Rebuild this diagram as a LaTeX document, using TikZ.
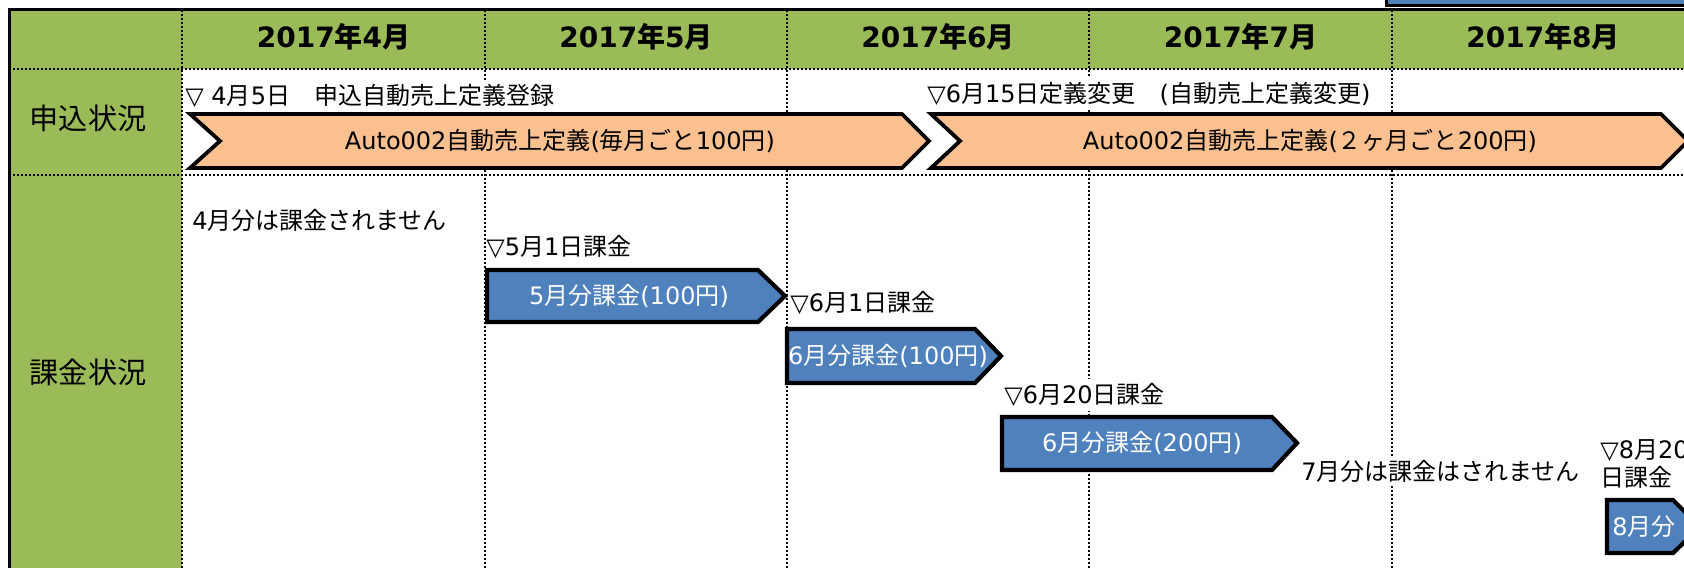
\documentclass[tikz,border=0pt]{standalone}
\usepackage{fontspec}
\setmainfont{DejaVu Sans}
\newfontfamily\jf{Noto Sans CJK JP}
\newcommand\J[1]{{\jf #1}}
\definecolor{hdrgreen}{RGB}{155,187,89}
\definecolor{barorange}{RGB}{250,192,144}
\definecolor{boxblue}{RGB}{79,129,189}
\begin{document}
\begin{tikzpicture}[x=0.5pt,y=-0.5pt,
 dotln/.style={line width=1pt, dash pattern=on 1pt off 1pt},
 framel/.style={line width=1.5pt},
 chev/.style={draw=black, line width=1.9pt, fill=barorange, line join=miter},
 bluebox/.style={draw=black, line width=2.1pt, fill=boxblue, line join=miter},
 note/.style={fill=white, inner xsep=0pt, inner ysep=2pt, anchor=west, font=\fontsize{12}{14}\selectfont},
 bartext/.style={inner sep=0pt, font=\fontsize{12}{14}\selectfont},
 boxtext/.style={inner sep=0pt, text=white, font=\fontsize{12}{14}\selectfont},
 hdr/.style={inner sep=0pt, font=\fontsize{14}{16}\selectfont\bfseries},
 rowlbl/.style={inner sep=0pt, font=\fontsize{14.6}{16}\selectfont}]
\useasboundingbox (0,0) rectangle (1684,567);
\clip (0,0) rectangle (1684,567);
% backgrounds
\fill[hdrgreen] (9,10) rectangle (1700,69);
\fill[hdrgreen] (9,69) rectangle (182,580);
% top-right blue box
\draw[bluebox, line width=1.5pt] (1386,-10) rectangle (1700,6);
% dotted grid
\foreach \x in {182,485,787,1089,1392} \draw[dotln] (\x,10) -- (\x,580);
\draw[dotln] (9,69) -- (1700,69);
\draw[dotln] (9,175) -- (1700,175);
% frame
\draw[framel] (9,580) -- (9,10) -- (1700,10);
% headers
\node[hdr] (m4) at (333.5,37) {2017\J{年}4\J{月}};
\node[hdr] (m5) at (636,37) {2017\J{年}5\J{月}};
\node[hdr] (m6) at (938,37) {2017\J{年}6\J{月}};
\node[hdr] (m7) at (1240.5,37) {2017\J{年}7\J{月}};
\node[hdr] (m8) at (1543,37) {2017\J{年}8\J{月}};
\node[rowlbl] (r1) at (88,118) {\J{申込状況}};
\node[rowlbl] (r2) at (88,372) {\J{課金状況}};
% notes
\node[note] (n1) at (185,96) {▽ 4\J{月}5\J{日　申込自動売上定義登録}};
\node[note] (n2) at (927,94) {▽6\J{月}15\J{日定義変更　}(\J{自動売上定義変更})};
\node[note] (n3) at (192,220) {4\J{月分は課金されません}};
\node[note] (n4) at (486,247) {▽5\J{月}1\J{日課金}};
\node[note] (n5) at (790,303) {▽6\J{月}1\J{日課金}};
\node[note] (n6) at (1004,395) {▽6\J{月}20\J{日課金}};
\node[note] (n7) at (1301,471) {7\J{月分は課金はされません}};
\node[note, align=left] (n8) at (1600,464) {▽8\J{月}20\\\J{日課金}};
% bars
\draw[chev] (190,114) -- (902,114) -- (929,141) -- (902,168) -- (190,168) -- (220,141) -- cycle;
\node[bartext] (b1) at (560,141) {Auto002\J{自動売上定義}(\J{毎月ごと}100\J{円})};
\draw[chev] (931,114) -- (1661,114) -- (1688,141) -- (1661,168) -- (931,168) -- (960,141) -- cycle;
\node[bartext] (b2) at (1310,141) {Auto002\J{自動売上定義}(\J{２ヶ月ごと}200\J{円})};
% charges
\draw[bluebox] (487,270) -- (758,270) -- (785,296) -- (758,322) -- (487,322) -- cycle;
\node[boxtext] (c1) at (629,296) {5\J{月分課金}(100\J{円})};
\draw[bluebox] (787,329) -- (975,329) -- (1001,356) -- (975,383) -- (787,383) -- cycle;
\node[boxtext] (c2) at (888,356) {6\J{月分課金}(100\J{円})};
\draw[bluebox] (1002,417) -- (1272,417) -- (1297,443) -- (1272,470) -- (1002,470) -- cycle;
\node[boxtext] (c3) at (1142,443) {6\J{月分課金}(200\J{円})};
\draw[bluebox] (1607,500) -- (1673,500) -- (1700,527) -- (1673,553) -- (1607,553) -- cycle;
\node[boxtext, anchor=west] (c4) at (1612,527) {8\J{月分}};
\end{tikzpicture}
\end{document}
